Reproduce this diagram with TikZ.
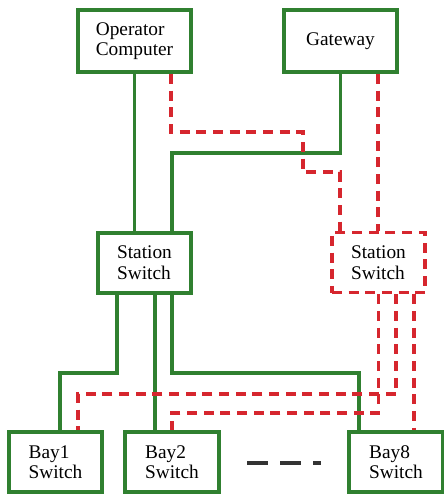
\documentclass[tikz,border=0pt]{standalone}
\usepackage{fontspec}
\setmainfont{Liberation Serif}
\usetikzlibrary{calc}
\definecolor{lanGreen}{RGB}{48,128,48}
\definecolor{lanRed}{RGB}{214,38,46}

\begin{document}
\begin{tikzpicture}[x=0.03cm,y=-0.03cm,font=\fontsize{16.5}{17.5}\selectfont,
  dev/.style={draw=lanGreen,line width=0.12cm,align=left,inner sep=0pt,minimum width=2.8cm,minimum height=1.8cm},
  rdev/.style={dev,draw=lanRed,line width=0.11cm,dash pattern=on 0.3cm off 0.2cm},
  gline/.style={draw=lanGreen,line width=0.11cm},
  rline/.style={draw=lanRed,line width=0.11cm,dash pattern=on 0.3cm off 0.2cm}]
\useasboundingbox (0,0) rectangle (444,495);
\node[dev,minimum width=3.39cm,minimum height=1.86cm] (op) at (134.5,41) {Operator\\Computer};
\node[dev,minimum width=3.39cm,minimum height=1.86cm] (gw) at (340.5,41) {Gateway};
\node[dev] (ssl) at (144.5,262.5) {Station\\Switch};
\node[rdev] (ssr) at (378.5,262.5) {Station\\Switch};
\node[dev] (bay1) at (55.5,462) {Bay1\\Switch};
\node[dev] (bay2) at (172,462) {Bay2\\Switch};
\node[dev] (bay8) at (396,462) {Bay8\\Switch};
% upper links
\draw[gline] (op.south) -- (op.south |- ssl.north);
\draw[gline] (gw.south) |- (172,153) -- (ssl.north -| 172,0);
\draw[rline] ($(op.south)+(36.5,0)$) |- (303,132) |- (340,172) -- (ssr.north -| 340,0);
\draw[rline] ($(gw.south)+(37.5,0)$) -- (ssr.north -| 378,0);
% bay links
\draw[gline] ($(ssl.south)+(-27.5,0)$) |- (60,373) -- (bay1.north -| 60,0);
\draw[gline] ($(ssl.south)+(10.5,0)$) -- (bay2.north -| 155,0);
\draw[gline] ($(ssl.south)+(27.5,0)$) |- (359,373) -- (bay8.north -| 359,0);
\draw[rline] (ssr.south) |- (172,413) -- (bay2.north);
\draw[rline] ($(ssr.south)+(17.5,0)$) |- (78,394) -- (bay1.north -| 78,0);
\draw[rline] ($(ssr.south)+(35.5,0)$) -- (bay8.north -| 414,0);
% more bays
\draw[line width=0.12cm,color=black!80,dash pattern=on 0.63cm off 0.36cm] (247,463) -- (321,463);
\end{tikzpicture}
\end{document}
